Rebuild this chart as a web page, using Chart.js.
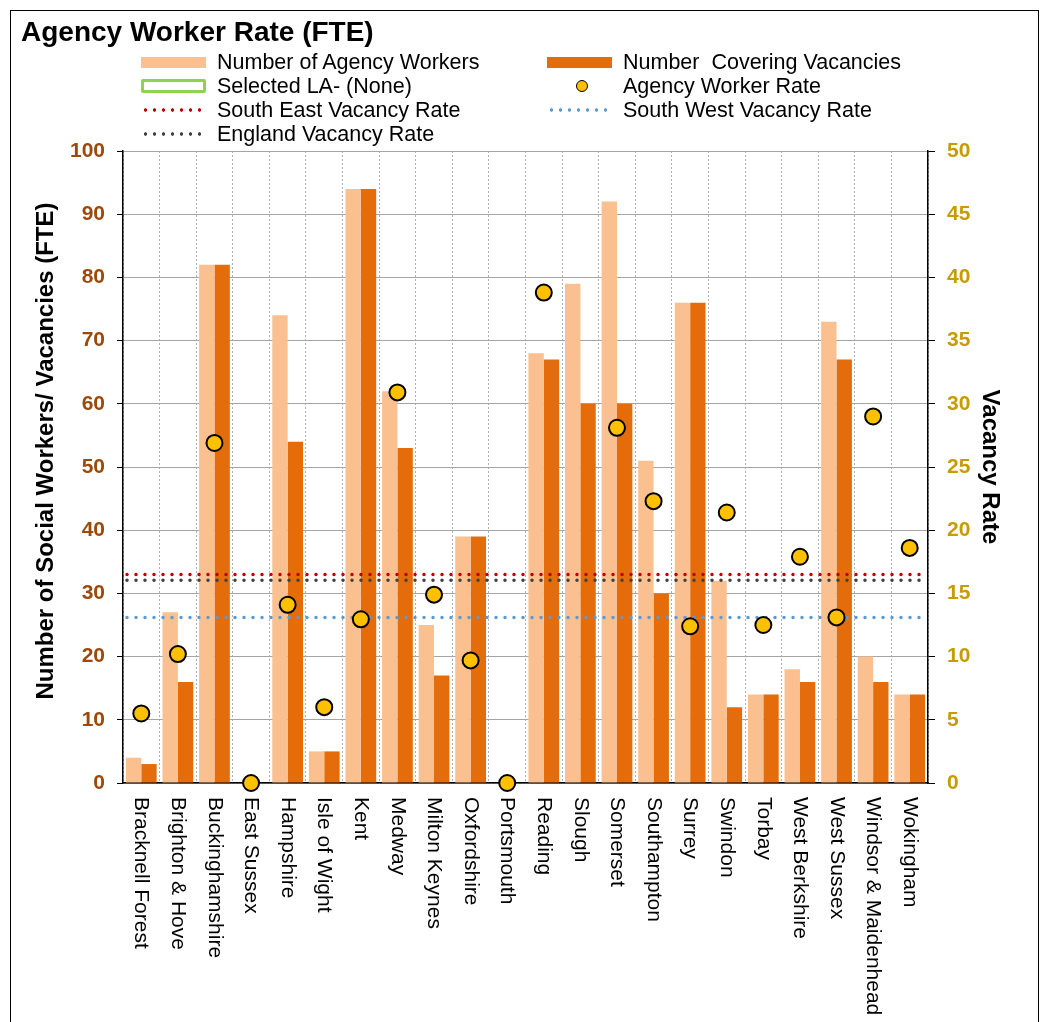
<!DOCTYPE html>
<html>
<head>
<meta charset="utf-8">
<script src="https://cdn.jsdelivr.net/npm/chart.js@4.4.1/dist/chart.umd.min.js"></script>
<style>
  html, body { margin: 0; padding: 0; background: #fff; }
  body { width: 1045px; height: 1022px; position: relative; overflow: hidden; font-family: "Liberation Sans", Arial, sans-serif; }
  #frame { position: absolute; left: 10px; top: 10px; width: 1027px; height: 1030px; border: 1px solid #000; pointer-events: none; }
  #chartBox { position: absolute; left: 0; top: 0; width: 1045px; height: 1022px; }
  .title { position: absolute; left: 21px; top: 18px; font-size: 28px; line-height: 28px; font-weight: bold; color: #000; }
  .legendItem { position: absolute; height: 24px; line-height: 24px; font-size: 21.5px; color: #000; white-space: pre; }
  .swatch { position: absolute; left: 0; width: 65px; }
  .legendItem span.label { position: absolute; white-space: pre; }
</style>
</head>
<body>
<div id="chartBox"><canvas id="myChart" width="1045" height="1022"></canvas></div>
<div id="frame"></div>
<div class="title">Agency Worker Rate (FTE)</div>
<div id="legend"></div>
<script>
const categories = [
  "Bracknell Forest", "Brighton & Hove", "Buckinghamshire", "East Sussex",
  "Hampshire", "Isle of Wight", "Kent", "Medway", "Milton Keynes",
  "Oxfordshire", "Portsmouth", "Reading", "Slough", "Somerset",
  "Southampton", "Surrey", "Swindon", "Torbay", "West Berkshire",
  "West Sussex", "Windsor & Maidenhead", "Wokingham",
];
const agencyWorkers = [4, 27, 82, 0, 74, 5, 94, 62, 25, 39, 0, 68, 79, 92, 51, 76, 32, 14, 18, 73, 20, 14];
const coveringVacancies = [3, 16, 82, 0, 54, 5, 94, 53, 17, 39, 0, 67, 60, 60, 30, 76, 12, 14, 16, 67, 16, 14];
const agencyWorkerRate = [5.5, 10.2, 26.9, 0, 14.1, 6.0, 12.95, 30.9, 14.9, 9.7, 0, 38.8, null, 28.1, 22.3, 12.4, 21.4, 12.5, 17.9, 13.1, 29.0, 18.6];
const southEastRate = 16.5;
const englandRate = 16.05;
const southWestRate = 13.1;

const fontFamily = "'Liberation Sans', Arial, sans-serif";
const lightOrange = "#FAC090";
const darkOrange = "#E46C0A";
const pointYellow = "#FFC000";
const leftTitle = "Number of Social Workers/ Vacancies (FTE)";

const refLines = [
  { value: southEastRate, color: "#C00000" },
  { value: englandRate, color: "#404040" },
  { value: southWestRate, color: "#5B9BD5" },
];

// legend is plain html, laid out like the excel one (two columns)
const legendItems = [
  { text: "Number of Agency Workers", col: 0, row: 0, type: "bar", color: lightOrange },
  { text: "Number  Covering Vacancies", col: 1, row: 0, type: "bar", color: darkOrange },
  { text: "Selected LA- (None)", col: 0, row: 1, type: "box", color: "#92D050" },
  { text: "Agency Worker Rate", col: 1, row: 1, type: "point", color: pointYellow },
  { text: "South East Vacancy Rate", col: 0, row: 2, type: "dots", color: "#C00000" },
  { text: "South West Vacancy Rate", col: 1, row: 2, type: "dots", color: "#5B9BD5" },
  { text: "England Vacancy Rate", col: 0, row: 3, type: "dots", color: "#404040" },
];

const buildLegend = () => {
  const legend = document.getElementById("legend");
  const colX = [141, 547];
  legendItems.forEach((item) => {
    const div = document.createElement("div");
    div.className = "legendItem";
    div.style.left = `${colX[item.col]}px`;
    div.style.top = `${50 + item.row * 24}px`;
    const sw = document.createElement("div");
    sw.className = "swatch";
    if (item.type === "bar") {
      sw.style.top = "7px";
      sw.style.height = "11px";
      sw.style.background = item.color;
    } else if (item.type === "box") {
      sw.style.top = "5px";
      sw.style.height = "8px";
      sw.style.width = "59px";
      sw.style.border = `3px solid ${item.color}`;
      sw.style.borderRadius = "2px";
    } else if (item.type === "point") {
      sw.style.left = "29px";
      sw.style.top = "6px";
      sw.style.width = "10px";
      sw.style.height = "10px";
      sw.style.borderRadius = "50%";
      sw.style.background = item.color;
      sw.style.border = "1.5px solid #000";
    } else {
      sw.style.top = "10px";
      sw.style.height = "4px";
      sw.style.background = `radial-gradient(circle, ${item.color} 1.4px, transparent 2px) 0 0 / 9px 4px repeat-x`;
    }
    div.appendChild(sw);
    const label = document.createElement("span");
    label.className = "label";
    label.style.left = "76px";
    label.innerText = item.text;
    div.appendChild(label);
    legend.appendChild(div);
  });
};

const refLinePlugin = {
  id: "refLines",
  beforeDatasetDraw: (chart, args) => {
    if (args.index !== 2) return;
    const { ctx, chartArea, scales } = chart;
    refLines.forEach((line) => {
      const y = scales.y2.getPixelForValue(line.value);
      ctx.save();
      ctx.strokeStyle = line.color;
      ctx.lineWidth = 3.5;
      ctx.lineCap = "round";
      ctx.setLineDash([0, 9]);
      ctx.beginPath();
      ctx.moveTo(chartArea.left + 4, y);
      ctx.lineTo(chartArea.right, y);
      ctx.stroke();
      ctx.restore();
    });
  },
};

// x labels read top to bottom, chart.js only rotates the other way
const axisTextPlugin = {
  id: "axisText",
  afterDraw: (chart) => {
    const { ctx } = chart;
    const x = chart.scales.x;
    ctx.save();
    ctx.font = `21px ${fontFamily}`;
    ctx.fillStyle = "#000";
    ctx.textBaseline = "middle";
    ctx.textAlign = "left";
    categories.forEach((label, i) => {
      ctx.save();
      ctx.translate(x.getPixelForValue(i), x.top + 14);
      ctx.rotate(Math.PI / 2);
      ctx.fillText(label, 0, 0);
      ctx.restore();
    });
    // left axis title sits a bit above the middle in the original
    ctx.font = `bold 24px ${fontFamily}`;
    ctx.textAlign = "center";
    ctx.translate(46, 451);
    ctx.rotate(-Math.PI / 2);
    ctx.fillText(leftTitle, 0, 0);
    ctx.restore();
  },
};

const data = {
  labels: categories,
  datasets: [
    {
      type: "bar",
      label: "Number of Agency Workers",
      data: agencyWorkers,
      backgroundColor: lightOrange,
      yAxisID: "y",
      order: 1,
      categoryPercentage: 0.84,
      barPercentage: 1,
    },
    {
      type: "bar",
      label: "Number  Covering Vacancies",
      data: coveringVacancies,
      backgroundColor: darkOrange,
      yAxisID: "y",
      order: 1,
      categoryPercentage: 0.84,
      barPercentage: 1,
    },
    {
      type: "line",
      label: "Agency Worker Rate",
      data: agencyWorkerRate,
      showLine: false,
      pointRadius: 8,
      pointBorderWidth: 2,
      pointBackgroundColor: pointYellow,
      pointBorderColor: "#000",
      yAxisID: "y2",
      order: 0,
      clip: false,
    },
  ],
};

const config = {
  type: "bar",
  data: data,
  options: {
    responsive: false,
    animation: false,
    layout: { padding: { top: 151, left: 0, right: 0, bottom: 0 } },
    plugins: {
      legend: { display: false },
      tooltip: { enabled: false },
    },
    scales: {
      x: {
        offset: true,
        ticks: { display: false },
        grid: { offset: true, color: "#B0B0B0", lineWidth: 1, drawTicks: false },
        border: { color: "#000", width: 1.5, dash: [2, 2] },
        afterFit: (scale) => {
          scale.height = 1022 - 783;
        },
      },
      y: {
        position: "left",
        min: 0,
        max: 100,
        ticks: {
          stepSize: 10,
          color: "#9C4A0B",
          font: { family: fontFamily, size: 21, weight: "bold" },
          padding: 12,
        },
        grid: { color: "#A6A6A6", lineWidth: 1, tickLength: 6, tickColor: "#000" },
        border: { color: "#000", width: 1.5 },
        afterFit: (scale) => {
          scale.width = 123;
        },
      },
      y2: {
        position: "right",
        min: 0,
        max: 50,
        ticks: {
          stepSize: 5,
          color: "#C89B00",
          font: { family: fontFamily, size: 21, weight: "bold" },
          padding: 12,
        },
        grid: { drawOnChartArea: false, tickLength: 7, color: "#000" },
        border: { color: "#000", width: 1.5 },
        title: {
          display: true,
          text: "Vacancy Rate",
          color: "#000",
          font: { family: fontFamily, size: 24, weight: "bold" },
          padding: { top: 41, bottom: 0 },
        },
        afterFit: (scale) => {
          scale.width = 1045 - 928;
        },
      },
    },
  },
  plugins: [refLinePlugin, axisTextPlugin],
};

buildLegend();
const myChart = new Chart(document.getElementById("myChart"), config);
</script>
</body>
</html>
